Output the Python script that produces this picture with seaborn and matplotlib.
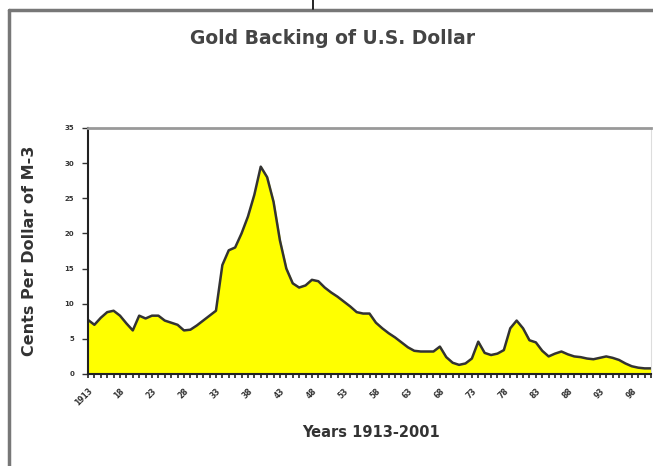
import numpy as np
import pandas as pd
import matplotlib
matplotlib.use("Agg")
import matplotlib.pyplot as plt
import seaborn as sns
from matplotlib.lines import Line2D

years = list(range(1913, 2002))
cents = [7.7, 7.0, 8.0, 8.8, 9.0, 8.3, 7.2, 6.2, 8.3, 7.9,
         8.3, 8.3, 7.6, 7.3, 7.0, 6.2, 6.3, 6.9, 7.6, 8.3,
         9.0, 15.5, 17.6, 18.0, 20.0, 22.4, 25.5, 29.5, 28.0, 24.5,
         19.0, 15.0, 12.9, 12.3, 12.6, 13.4, 13.2, 12.3, 11.6, 11.0,
         10.3, 9.6, 8.8, 8.6, 8.6, 7.3, 6.5, 5.8, 5.2, 4.5,
         3.8, 3.3, 3.2, 3.2, 3.2, 3.9, 2.4, 1.6, 1.3, 1.5,
         2.2, 4.6, 3.0, 2.7, 2.9, 3.4, 6.5, 7.6, 6.5, 4.8,
         4.5, 3.3, 2.5, 2.9, 3.2, 2.8, 2.5, 2.4, 2.2, 2.1,
         2.3, 2.5, 2.3, 2.0, 1.5, 1.1, 0.9, 0.8, 0.8]
yticks = [0, 5, 10, 15, 20, 25, 30, 35]
xticks = list(range(1913, 2001, 5))
xticklabels = ["1913"] + [f"{y % 100:02d}" for y in xticks[1:]]

title = "Gold Backing of U.S. Dollar"
xlabel = "Years 1913-2001"
ylabel = "Cents Per Dollar of M-3"

df = pd.DataFrame({"year": years, "cents": cents})

sns.set_style("white")
plt.rcParams['font.family'] = ['DejaVu Sans']

W, H = 653, 466
fig = plt.figure(figsize=(W / 100, H / 100), dpi=100)
fig.patch.set_facecolor("white")
ax = fig.add_axes([88 / W, 1 - 374 / H, (651 - 88) / W, (374 - 128) / H])

ax.fill_between(df["year"], df["cents"], 0, color="#FFFF00", zorder=1)
sns.lineplot(data=df, x="year", y="cents", ax=ax, color="#333333", linewidth=1.8, zorder=2)

ax.set_xlim(1913, 2001)
ax.set_ylim(0, 35)
ax.set_yticks(yticks)
ax.set_yticklabels([str(v) for v in yticks], fontsize=5, fontweight="bold", color="#333333")
ax.set_xticks(xticks)
ax.set_xticklabels(xticklabels, fontsize=5.5, fontweight="bold", color="#333333",
                   rotation=45, ha="right", rotation_mode="anchor")
ax.set_xticks(years, minor=True)
ax.tick_params(axis="y", direction="out", length=4, width=1, color="#333333", pad=6, left=True)
ax.tick_params(axis="x", which="both", direction="out", length=3, width=1.2, color="#222222",
               pad=6, bottom=True)

ax.set_xlabel(xlabel, fontsize=10.5, fontweight="bold", color="#333333")
ax.set_ylabel(ylabel, fontsize=11.5, fontweight="bold", color="#333333")
ax.xaxis.set_label_coords((371 - 88) / (651 - 88), -(425 - 374) / (374 - 128))
ax.yaxis.set_label_coords(-(88 - 37) / (651 - 88), 0.5)

for side in ["left", "bottom"]:
    ax.spines[side].set_color("#222222")
    ax.spines[side].set_linewidth(1.5)
ax.spines["top"].set_color("#999999")
ax.spines["top"].set_linewidth(2)
ax.spines["right"].set_color("#dddddd")
ax.spines["right"].set_linewidth(0.8)

fig.text(333 / W, 1 - 39 / H, title, ha="center", va="center", fontsize=13.5,
         fontweight="bold", color="#444444")

# outer frame
fig.add_artist(Line2D([8.5 / W, 1], [1 - 10 / H, 1 - 10 / H], color="#777777", linewidth=2.5))
fig.add_artist(Line2D([8.5 / W, 8.5 / W], [0, 1 - 10 / H], color="#777777", linewidth=2.5))
fig.add_artist(Line2D([313 / W, 313 / W], [1 - 9 / H, 1], color="black", linewidth=1.2))

fig.savefig("out.png", dpi=100)
